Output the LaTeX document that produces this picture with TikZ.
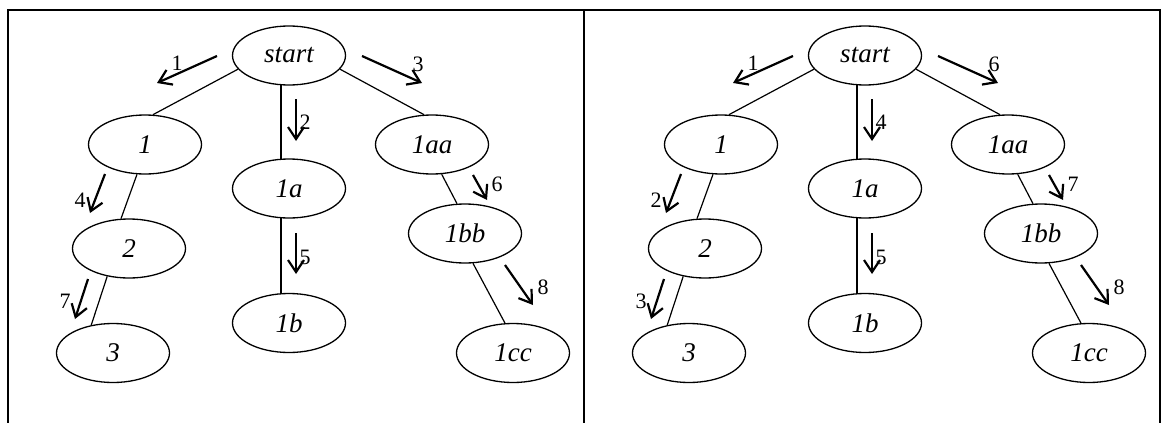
\documentclass[tikz,border=0pt]{standalone}
\usepackage{fontspec}
\setmainfont{Liberation Serif}
\usetikzlibrary{arrows.meta, positioning, shapes.geometric}

\begin{document}
\begin{tikzpicture}[
    x=0.5pt, y=-0.5pt, on grid,
    tnode/.style={draw, ellipse, line width=0.65pt, minimum width=56.5pt, minimum height=29.5pt, inner sep=0pt, font=\fontsize{13.5}{16}\selectfont\itshape},
    link/.style={line width=0.6pt},
    walk/.style={-{Straight Barb[length=6pt,width=8pt]}, line width=1.1pt},
    num/.style={font=\fontsize{11}{13}\selectfont, inner sep=0pt}
  ]

  \useasboundingbox (0,0) rectangle (1163,423);

  % Rámik tabuľky
  \draw[line width=0.8pt] (8,423) -- (8,10) -- (1160,10) -- (1160,423);
  \draw[line width=0.8pt] (584,10) -- (584,423);

  % Ľavý strom
  \node[tnode] (L0) at (289,55.5) {start};
  \node[tnode, below left=44.5pt and 72pt of L0] (L1) {1};
  \node[tnode, below=66.5pt of L0] (L1a) {1a};
  \node[tnode, below right=44.5pt and 71.5pt of L0] (L1aa) {1aa};
  \node[tnode, below left=52pt and 8pt of L1] (L2) {2};
  \node[tnode, below left=52.25pt and 8pt of L2] (L3) {3};
  \node[tnode, below=67.25pt of L1a] (L1b) {1b};
  \node[tnode, below right=44.5pt and 16.5pt of L1aa] (L1bb) {1bb};
  \node[tnode, below right=59.75pt and 24pt of L1bb] (L1cc) {1cc};

  \draw[link] (L0.195) -- (L1.75);
  \draw[link] (L0.255) -- (L1a.105);
  \draw[link] (L0.345) -- (L1aa.105);
  \draw[link] (L1.255) -- (L2.105);
  \draw[link] (L2.232) -- (L3.128);
  \draw[link] (L1a.255) -- (L1b.105);
  \draw[link] (L1aa.288) -- (L1bb.105);
  \draw[link] (L1bb.285) -- (L1cc.105);

  % Poradie prechodu (do šírky)
  \coordinate (Lp1) at (217,56); \coordinate (Lq1) at (157,83);
  \coordinate (Lp2) at (296,99); \coordinate (Lq2) at (296,141);
  \coordinate (Lp3) at (362,56); \coordinate (Lq3) at (422,83);
  \coordinate (Lp4) at (105,174); \coordinate (Lq4) at (90,213);
  \coordinate (Lp5) at (296,233); \coordinate (Lq5) at (296,274);
  \coordinate (Lp6) at (473,175); \coordinate (Lq6) at (487,200);
  \coordinate (Lp7) at (88,279); \coordinate (Lq7) at (75,319);
  \coordinate (Lp8) at (505,265); \coordinate (Lq8) at (533,305);
  \draw[walk] (Lp1) -- (Lq1);
  \draw[walk] (Lp2) -- (Lq2);
  \draw[walk] (Lp3) -- (Lq3);
  \draw[walk] (Lp4) -- (Lq4);
  \draw[walk] (Lp5) -- (Lq5);
  \draw[walk] (Lp6) -- (Lq6);
  \draw[walk] (Lp7) -- (Lq7);
  \draw[walk] (Lp8) -- (Lq8);
  \node[num] (Ln1) at (177,63.5) {1};
  \node[num] (Ln2) at (305,122) {2};
  \node[num] (Ln3) at (418,64) {3};
  \node[num] (Ln4) at (80,200) {4};
  \node[num] (Ln5) at (305,257) {5};
  \node[num] (Ln6) at (497,184) {6};
  \node[num] (Ln7) at (65,301) {7};
  \node[num] (Ln8) at (543,287) {8};

  % Pravý strom (do hĺbky)
  \begin{scope}[xshift=288pt]
    \node[tnode] (R0) at (289,55.5) {start};
    \node[tnode, below left=44.5pt and 72pt of R0] (R1) {1};
    \node[tnode, below=66.5pt of R0] (R1a) {1a};
    \node[tnode, below right=44.5pt and 71.5pt of R0] (R1aa) {1aa};
    \node[tnode, below left=52pt and 8pt of R1] (R2) {2};
    \node[tnode, below left=52.25pt and 8pt of R2] (R3) {3};
    \node[tnode, below=67.25pt of R1a] (R1b) {1b};
    \node[tnode, below right=44.5pt and 16.5pt of R1aa] (R1bb) {1bb};
    \node[tnode, below right=59.75pt and 24pt of R1bb] (R1cc) {1cc};

    \draw[link] (R0.195) -- (R1.75);
    \draw[link] (R0.255) -- (R1a.105);
    \draw[link] (R0.345) -- (R1aa.105);
    \draw[link] (R1.255) -- (R2.105);
    \draw[link] (R2.232) -- (R3.128);
    \draw[link] (R1a.255) -- (R1b.105);
    \draw[link] (R1aa.288) -- (R1bb.105);
    \draw[link] (R1bb.285) -- (R1cc.105);

    \coordinate (Rp1) at (217,56); \coordinate (Rq1) at (157,83);
    \coordinate (Rp2) at (296,99); \coordinate (Rq2) at (296,141);
    \coordinate (Rp3) at (362,56); \coordinate (Rq3) at (422,83);
    \coordinate (Rp4) at (105,174); \coordinate (Rq4) at (90,213);
    \coordinate (Rp5) at (296,233); \coordinate (Rq5) at (296,274);
    \coordinate (Rp6) at (473,175); \coordinate (Rq6) at (487,200);
    \coordinate (Rp7) at (88,279); \coordinate (Rq7) at (75,319);
    \coordinate (Rp8) at (505,265); \coordinate (Rq8) at (533,305);
    \draw[walk] (Rp1) -- (Rq1);
    \draw[walk] (Rp2) -- (Rq2);
    \draw[walk] (Rp3) -- (Rq3);
    \draw[walk] (Rp4) -- (Rq4);
    \draw[walk] (Rp5) -- (Rq5);
    \draw[walk] (Rp6) -- (Rq6);
    \draw[walk] (Rp7) -- (Rq7);
    \draw[walk] (Rp8) -- (Rq8);
    \node[num] (Rn1) at (177,63.5) {1};
    \node[num] (Rn2) at (305,122) {4};
    \node[num] (Rn3) at (418,64) {6};
    \node[num] (Rn4) at (80,200) {2};
    \node[num] (Rn5) at (305,257) {5};
    \node[num] (Rn6) at (497,184) {7};
    \node[num] (Rn7) at (65,301) {3};
    \node[num] (Rn8) at (543,287) {8};
  \end{scope}

\end{tikzpicture}
\end{document}
